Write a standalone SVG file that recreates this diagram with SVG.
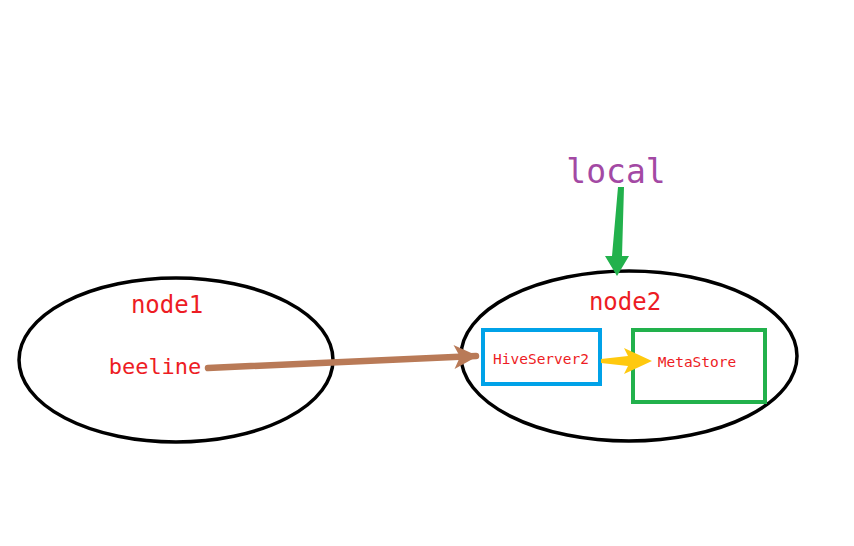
<svg xmlns="http://www.w3.org/2000/svg" width="854" height="546" viewBox="0 0 854 546">
<style>
text{font-family:"DejaVu Sans Mono","Liberation Mono",monospace;fill:#ed1c24}
.ell{fill:none;stroke:#000;stroke-width:3.5}
.box{fill:none;stroke-width:4}
</style>
<defs>
<marker id="brown" markerUnits="userSpaceOnUse" markerWidth="30" markerHeight="30" refX="22" refY="15" orient="auto" overflow="visible">
<path d="M0,3 L24,15 L0,27 L6,15 Z" fill="#b97a57"/>
</marker>
</defs>
<rect width="854" height="546" fill="#fff"/>
<g id="node1">
<ellipse class="ell" cx="176" cy="360" rx="157" ry="82"/>
<text x="167" y="313" font-size="24" text-anchor="middle">node1</text>
<text x="155" y="374" font-size="22" text-anchor="middle">beeline</text>
</g>
<g id="node2">
<ellipse class="ell" cx="629" cy="356" rx="168" ry="85"/>
<text x="625" y="310" font-size="24" text-anchor="middle">node2</text>
</g>
<g id="hiveserver2">
<rect class="box" x="483" y="330" width="117" height="54" stroke="#00a2e8"/>
<text x="541" y="364" font-size="14.5" text-anchor="middle">HiveServer2</text>
</g>
<g id="metastore">
<rect class="box" x="633" y="330" width="132" height="72" stroke="#22b14c"/>
<text x="697" y="367" font-size="14.5" text-anchor="middle">MetaStore</text>
</g>
<g id="local">
<text x="616" y="183" font-size="33" text-anchor="middle" style="fill:#a349a4">local</text>
</g>
<g id="connectors">
<line x1="208" y1="368" x2="476" y2="356" stroke="#b97a57" stroke-width="6.5" stroke-linecap="round" marker-end="url(#brown)"/>
<path d="M618,187 L624,187 L622,256 L629,256 L617,276 L605,256 L612,256 Z" fill="#22b14c"/>
<path d="M601,359 L628,356 L624,348 L652,361 L624,374 L628,366 L601,363 Z" fill="#ffc90e"/>
</g>
</svg>
